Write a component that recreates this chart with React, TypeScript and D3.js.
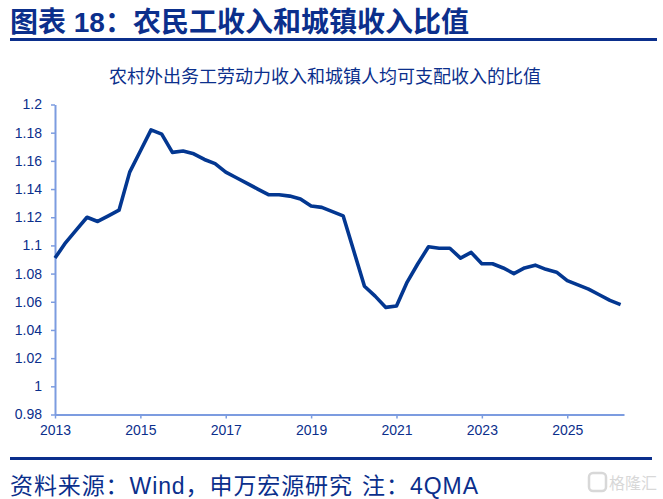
import React, { useEffect, useRef } from "react";
import * as d3 from "d3";

// quarterly 4QMA ratio, 2013Q1 .. 2026Q2
const quarters: string[] = [
	"2013Q1", "2013Q2", "2013Q3", "2013Q4",
	"2014Q1", "2014Q2", "2014Q3", "2014Q4",
	"2015Q1", "2015Q2", "2015Q3", "2015Q4",
	"2016Q1", "2016Q2", "2016Q3", "2016Q4",
	"2017Q1", "2017Q2", "2017Q3", "2017Q4",
	"2018Q1", "2018Q2", "2018Q3", "2018Q4",
	"2019Q1", "2019Q2", "2019Q3", "2019Q4",
	"2020Q1", "2020Q2", "2020Q3", "2020Q4",
	"2021Q1", "2021Q2", "2021Q3", "2021Q4",
	"2022Q1", "2022Q2", "2022Q3", "2022Q4",
	"2023Q1", "2023Q2", "2023Q3", "2023Q4",
	"2024Q1", "2024Q2", "2024Q3", "2024Q4",
	"2025Q1", "2025Q2", "2025Q3", "2025Q4",
	"2026Q1", "2026Q2",
];

const ratio: number[] = [
	1.091, 1.102, 1.111, 1.12,
	1.117, 1.121, 1.125, 1.152,
	1.167, 1.182, 1.179, 1.166,
	1.167, 1.165, 1.161, 1.158,
	1.152, 1.148, 1.144, 1.14,
	1.136, 1.136, 1.135, 1.133,
	1.128, 1.127, 1.124, 1.121,
	1.096, 1.071, 1.064, 1.056,
	1.057, 1.074, 1.087, 1.099,
	1.098, 1.098, 1.091, 1.095,
	1.087, 1.087, 1.084, 1.08,
	1.084, 1.086, 1.083, 1.081,
	1.075, 1.072, 1.069, 1.065,
	1.061, 1.058,
];

const yTicks: number[] = [0.98, 1, 1.02, 1.04, 1.06, 1.08, 1.1, 1.12, 1.14, 1.16, 1.18, 1.2];
const xTicks: number[] = [2013, 2015, 2017, 2019, 2021, 2023, 2025];

const titleText = "图表 18：农民工收入和城镇收入比值";
const subTitle = "农村外出务工劳动力收入和城镇人均可支配收入的比值";
const sourceText = "资料来源：Wind，申万宏源研究";
const noteText = "注：4QMA";

const NAVY = "#0b2f8c";
const AXIS = "#7c9ce0";
const LINE = "#033791";
const LATIN = "'Liberation Sans', Arial, sans-serif";
const CJK = "'Liberation Sans', 'Noto Sans CJK SC', sans-serif";

function toYear(q: string) {
	return +q.slice(0, 4) + (+q.slice(5) - 1) * 0.25;
}

function draw(ref: SVGSVGElement | null) {
	if (!ref) return;
	const width = 663,
		height = 499;
	const svg = d3.select(ref).attr("width", width).attr("height", height);
	svg.selectAll("*").remove();

	svg.append("rect").attr("width", width).attr("height", height).attr("fill", "white");

	// header
	svg.append("text")
		.attr("x", 10)
		.attr("y", 32)
		.attr("font-family", CJK)
		.attr("font-weight", "bold")
		.attr("font-size", 28)
		.attr("fill", NAVY)
		.text(titleText);
	svg.append("rect").attr("x", 10).attr("y", 38).attr("width", 647).attr("height", 3).attr("fill", NAVY);

	svg.append("text")
		.attr("x", 325)
		.attr("y", 83)
		.attr("text-anchor", "middle")
		.attr("font-family", CJK)
		.attr("font-size", 18)
		.attr("fill", NAVY)
		.text(subTitle);

	const data = quarters.map((q, i) => ({ t: toYear(q), v: ratio[i] }));

	const x = d3.scaleLinear().domain([2013, 2026.33]).range([55, 624]);
	const y = d3.scaleLinear().domain([0.98, 1.2]).range([414.5, 104.5]);

	// y axis
	const yAxis = svg
		.append("g")
		.attr("transform", "translate(55,0)")
		.call(d3.axisLeft(y).tickValues(yTicks).tickSize(4).tickSizeOuter(0).tickFormat((d) => d3.format("")(+d)));
	yAxis.select(".domain").attr("stroke", AXIS).attr("stroke-width", 2);
	yAxis.selectAll(".tick line").attr("stroke", AXIS).attr("stroke-width", 1.5);
	yAxis.selectAll(".tick text")
		.attr("x", -13)
		.attr("fill", NAVY)
		.attr("font-family", LATIN)
		.attr("font-size", 14);

	// x axis
	const xAxis = svg
		.append("g")
		.attr("transform", "translate(0,414.5)")
		.call(d3.axisBottom(x).tickValues(xTicks).tickSize(4).tickSizeOuter(0).tickFormat(d3.format("d")));
	xAxis.select(".domain").attr("stroke", AXIS).attr("stroke-width", 2);
	xAxis.selectAll(".tick line").attr("stroke", AXIS).attr("stroke-width", 1.5);
	xAxis.selectAll(".tick text")
		.attr("y", 11)
		.attr("fill", NAVY)
		.attr("font-family", LATIN)
		.attr("font-size", 14);

	// the series
	const line = d3
		.line<{ t: number; v: number }>()
		.x((d) => x(d.t))
		.y((d) => y(d.v));
	svg.append("path")
		.datum(data)
		.attr("d", line)
		.attr("fill", "none")
		.attr("stroke", LINE)
		.attr("stroke-width", 3.6)
		.attr("stroke-linejoin", "round");

	// footer
	svg.append("rect").attr("x", 10).attr("y", 457).attr("width", 642).attr("height", 3).attr("fill", NAVY);
	const foot = svg
		.append("g")
		.attr("font-family", CJK)
		.attr("font-size", 23)
		.attr("fill", NAVY);
	foot.append("text").attr("x", 10).attr("y", 494).attr("textLength", 342).text(sourceText);
	foot.append("text").attr("x", 362).attr("y", 494).attr("textLength", 116).text(noteText);

	// watermark
	svg.append("rect")
		.attr("x", 589)
		.attr("y", 473)
		.attr("width", 17)
		.attr("height", 18)
		.attr("rx", 4)
		.attr("fill", "none")
		.attr("stroke", "#d8d8d8")
		.attr("stroke-width", 2.5);
	svg.append("text")
		.attr("x", 609)
		.attr("y", 489)
		.attr("font-family", CJK)
		.attr("font-size", 16)
		.attr("fill", "#d8d8d8")
		.text("格隆汇");
}

export default function App() {
	const ref = useRef<SVGSVGElement>(null);
	useEffect(() => {
		draw(ref.current);
	}, []);
	return <svg ref={ref} style={{ position: "absolute", left: 0, top: 0 }} />;
}
